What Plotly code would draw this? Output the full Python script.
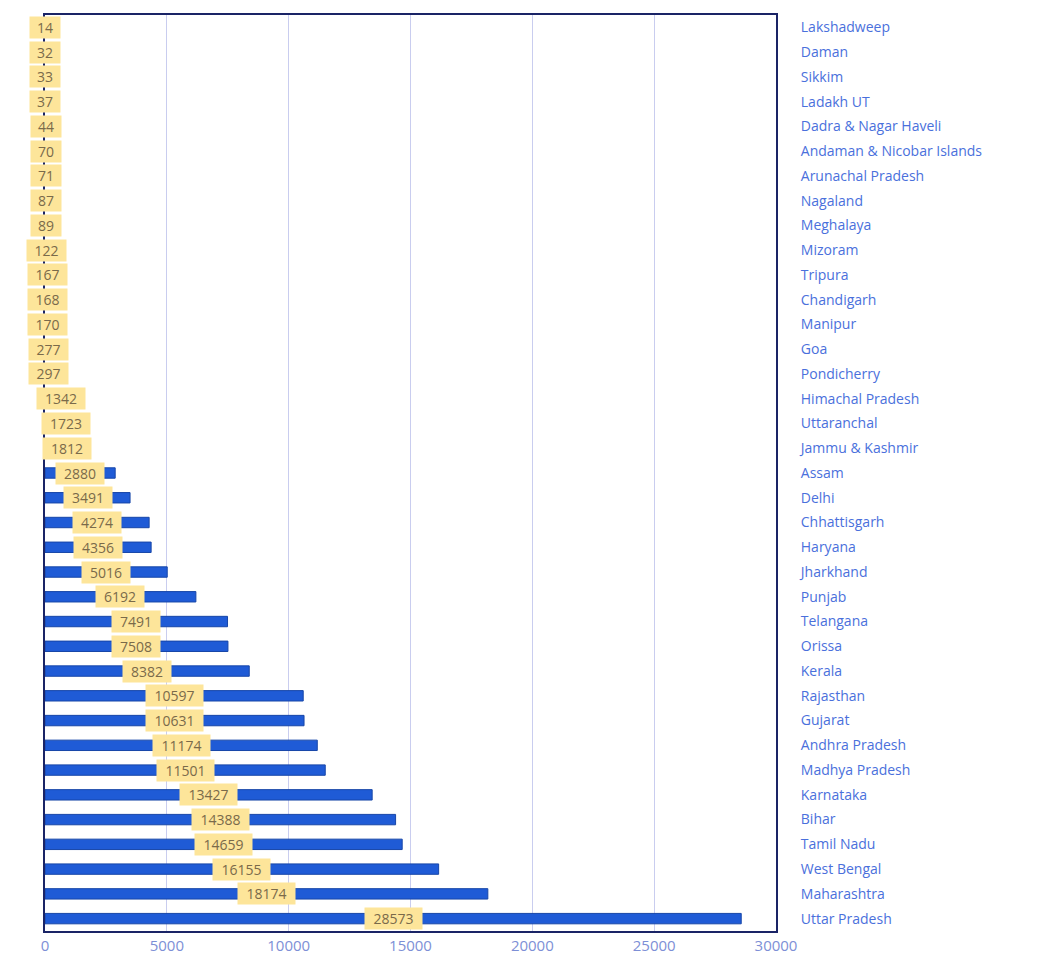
import plotly.graph_objects as go

states = ["Lakshadweep", "Daman", "Sikkim", "Ladakh UT", "Dadra & Nagar Haveli",
          "Andaman & Nicobar Islands", "Arunachal Pradesh", "Nagaland", "Meghalaya",
          "Mizoram", "Tripura", "Chandigarh", "Manipur", "Goa", "Pondicherry",
          "Himachal Pradesh", "Uttaranchal", "Jammu & Kashmir", "Assam", "Delhi",
          "Chhattisgarh", "Haryana", "Jharkhand", "Punjab", "Telangana", "Orissa",
          "Kerala", "Rajasthan", "Gujarat", "Andhra Pradesh", "Madhya Pradesh",
          "Karnataka", "Bihar", "Tamil Nadu", "West Bengal", "Maharashtra", "Uttar Pradesh"]
values = [14, 32, 33, 37, 44, 70, 71, 87, 89, 122, 167, 168, 170, 277, 297, 1342,
          1723, 1812, 2880, 3491, 4274, 4356, 5016, 6192, 7491, 7508, 8382, 10597,
          10631, 11174, 11501, 13427, 14388, 14659, 16155, 18174, 28573]
x_ticks = [0, 5000, 10000, 15000, 20000, 25000, 30000]

fig = go.Figure()
fig.add_trace(go.Bar(
    y=states, x=values, orientation="h",
    marker=dict(color="#1f5bd6", line=dict(color="#1746a8", width=1)),
    width=0.42, showlegend=False, hoverinfo="x+y",
))

for s, v in zip(states, values):
    fig.add_annotation(
        x=v / 2, y=s, xref="x", yref="y", text=str(v), showarrow=False,
        xanchor="center", yanchor="middle",
        bgcolor="#fde59a", borderpad=1, width=len(str(v)) * 9 + 10,
        font=dict(family="Open Sans, Lato, sans-serif", size=14, color="#7a6a4a"),
    )

fig.update_layout(
    width=1056, height=976,
    paper_bgcolor="white", plot_bgcolor="white",
    margin=dict(l=45, r=280, t=15, b=45),
    bargap=0.58,
    font=dict(family="Open Sans, Lato, sans-serif"),
)
fig.update_xaxes(
    range=[0, 30000], tickvals=x_ticks, ticktext=[str(t) for t in x_ticks],
    showgrid=True, gridcolor="#c9cdef", gridwidth=1,
    showline=True, linecolor="#1a2466", linewidth=2, mirror=True,
    tickfont=dict(size=15, color="#7d8fd6"), ticks="", zeroline=False,
)
fig.update_yaxes(
    categoryorder="array", categoryarray=states[::-1],
    side="right", showgrid=False,
    showline=True, linecolor="#1a2466", linewidth=2, mirror=True,
    tickfont=dict(size=14, color="#4a70dc"), ticks="", ticklabelstandoff=20,
)

fig.write_html("out.html")
